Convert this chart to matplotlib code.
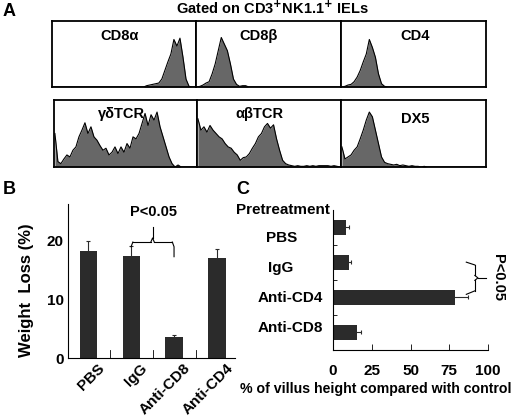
import matplotlib
matplotlib.use("Agg")
import matplotlib.pyplot as plt
import matplotlib.transforms as mtransforms
import numpy as np

plt.rcParams['font.family'] = ['Liberation Sans', 'DejaVu Sans']
plt.rcParams['font.weight'] = 'bold'

# ---------------- data ----------------
# Panel A: flow histograms (relative counts per bin, 48 bins across the log scale)
hist_names = ["CD8α", "CD8β", "CD4", "γδTCR", "αβTCR", "DX5"]
cd8a = [0]*31 + [0.02, 0.03, 0.04, 0.05, 0.06, 0.12, 0.25, 0.38, 0.5, 0.72, 0.62, 0.74,
                 0.45, 0.12, 0.01, 0, 0]
cd8b = [0, 0.01, 0.03, 0.06, 0.08, 0.2, 0.35, 0.55, 0.75, 0.65, 0.55, 0.35, 0.12, 0.04,
        0.01, 0.02, 0.02] + [0]*31
cd4 = [0, 0.01, 0.03, 0.04, 0.08, 0.15, 0.25, 0.38, 0.5, 0.72, 0.6, 0.45, 0.2, 0.05,
       0.01] + [0]*33
gdtcr = [0.5, 0.08, 0.05, 0.12, 0.18, 0.15, 0.25, 0.3, 0.45, 0.55, 0.66, 0.5, 0.6, 0.45,
         0.4, 0.32, 0.25, 0.28, 0.18, 0.22, 0.3, 0.2, 0.3, 0.22, 0.35, 0.28, 0.45, 0.42,
         0.5, 0.65, 0.8, 0.62, 0.78, 0.7, 0.82, 0.6, 0.45, 0.3, 0.15, 0.05, 0.0, 0.03,
         0, 0, 0, 0, 0, 0]
abtcr = [0.72, 0.55, 0.6, 0.52, 0.62, 0.55, 0.5, 0.45, 0.42, 0.35, 0.3, 0.28, 0.22, 0.18,
         0.1, 0.14, 0.15, 0.2, 0.28, 0.35, 0.45, 0.5, 0.6, 0.65, 0.58, 0.63, 0.42, 0.25,
         0.1, 0.05, 0.03, 0.02, 0.01, 0.02, 0.01, 0.01, 0.02, 0.01, 0.02, 0.01, 0.02,
         0.02, 0.02, 0.02, 0.01, 0.02, 0.01, 0]
dx5 = [0.3, 0.12, 0.15, 0.18, 0.25, 0.3, 0.42, 0.55, 0.7, 0.82, 0.75, 0.55, 0.35, 0.15,
       0.07, 0.05, 0.04, 0.03, 0.04, 0.02, 0.03, 0.02, 0.01, 0.02, 0.01, 0.01, 0.0,
       0.01] + [0]*20
hist_data = [cd8a, cd8b, cd4, gdtcr, abtcr, dx5]

# Panel B: weight loss
b_groups = ["PBS", "IgG", "Anti-CD8", "Anti-CD4"]
b_values = [18.3, 17.4, 3.6, 17.0]
b_errors = [1.7, 1.7, 0.3, 1.7]
b_yticks = [0, 10, 20]

# Panel C: villus height
c_groups = ["PBS", "IgG", "Anti-CD4", "Anti-CD8"]
c_values = [8.5, 10.0, 79.0, 15.5]
c_errors = [1.5, 1.5, 8.0, 2.5]
c_xticks = [0, 25, 50, 75, 100]

# ---------------- layout helpers ----------------
W, H = 520, 417
fig = plt.figure(figsize=(W/100, H/100), dpi=100)
FS = 11


def ax_px(x0, y0, x1, y1):
    return fig.add_axes([x0/W, 1 - y1/H, (x1-x0)/W, (y1-y0)/H])


def txt(x, y, s, **kw):
    fig.text(x/W, 1 - y/H, s, **kw)


# ---------------- Panel A ----------------
txt(3, 11, "A", fontsize=13, fontweight='bold', va='center', ha='left')
txt(272, 8, "Gated on CD3$^{\\mathbf{+}}$NK1.1$^{\\mathbf{+}}$ IELs", fontsize=10.5,
    fontweight='bold', ha='center', va='center')

boxes = [(52, 21, 196, 87), (196, 21, 341, 87), (341, 21, 486, 87),
         (54, 100, 197, 167), (197, 100, 341, 167), (341, 100, 486, 167)]
label_pos = [(0.47, 0.77), (0.43, 0.77), (0.51, 0.77),
             (0.47, 0.79), (0.43, 0.79), (0.51, 0.72)]
for (x0, y0, x1, y1), name, vals, lp in zip(boxes, hist_names, hist_data, label_pos):
    ax = ax_px(x0, y0, x1, y1)
    v = np.asarray(vals, dtype=float)
    xs = np.arange(len(v))
    ax.fill_between(xs, 0, v, color='#676767', lw=0)
    ax.plot(xs, v, color='black', lw=0.8)
    ax.set_xlim(-0.3, len(v) - 0.7)
    ax.set_ylim(0, 1)
    ax.set_xticks([])
    ax.set_yticks([])
    for s in ax.spines.values():
        s.set_linewidth(1.3)
    ax.text(lp[0], lp[1], name, transform=ax.transAxes, ha='center', va='center',
            fontsize=10.5, fontweight='bold')

# ---------------- Panel B ----------------
txt(3, 189, "B", fontsize=13, fontweight='bold', va='center', ha='left')
axb = ax_px(68, 204, 235, 358)
xb = np.arange(len(b_groups))
axb.bar(xb, b_values, width=0.4, color='#2b2b2b', yerr=b_errors,
        error_kw=dict(ecolor='#2b2b2b', elinewidth=0.8, capsize=1.5, capthick=0.8))
axb.set_xlim(-0.47, 3.42)
axb.set_ylim(0, 26.3)
axb.spines['top'].set_visible(False)
axb.spines['right'].set_visible(False)
axb.spines['left'].set_linewidth(0.8)
axb.spines['bottom'].set_linewidth(0.8)
axb.set_yticks(b_yticks)
axb.set_yticklabels([str(t) for t in b_yticks], fontsize=FS, fontweight='bold')
axb.tick_params(axis='y', length=0, pad=3)
axb.set_xticks(xb)
axb.set_xticklabels(b_groups, rotation=45, ha='right', rotation_mode='anchor',
                    fontsize=FS, fontweight='bold')
axb.tick_params(axis='x', length=0, pad=2)
shift = mtransforms.ScaledTranslation(0.09, 0, fig.dpi_scale_trans)
for lab in axb.get_xticklabels():
    lab.set_transform(lab.get_transform() + shift)
# minor tick marks between bars
for xm in [0.5, 1.5, 2.5]:
    axb.plot([xm, xm], [0, 1.3], color='black', lw=0.6)
txt(27, 290, "Weight  Loss (%)", fontsize=12, fontweight='bold', rotation=90,
    ha='center', va='center')
# brace between IgG and Anti-CD8
axb.plot([1.0, 1.04], [19.0, 19.8], color='black', lw=0.8, clip_on=False)
axb.plot([1.04, 1.46], [19.8, 19.8], color='black', lw=0.8, clip_on=False)
axb.plot([1.46, 1.5, 1.54], [19.8, 20.5, 19.8], color='black', lw=0.8, clip_on=False)
axb.plot([1.5, 1.5], [20.5, 22.4], color='black', lw=0.8, clip_on=False)
axb.plot([1.54, 1.96], [19.8, 19.8], color='black', lw=0.8, clip_on=False)
axb.plot([1.96, 2.0, 2.0], [19.8, 19.0, 17.3], color='black', lw=0.8, clip_on=False)
axb.text(1.52, 24.9, "P<0.05", ha='center', va='center', fontsize=10.5,
         fontweight='bold')

# ---------------- Panel C ----------------
txt(236, 189, "C", fontsize=13, fontweight='bold', va='center', ha='left')
axc = ax_px(333, 210, 488, 350)
yc = np.arange(len(c_groups))
axc.barh(yc, c_values, height=0.43, color='#2b2b2b', xerr=c_errors,
         error_kw=dict(ecolor='#2b2b2b', elinewidth=0.8, capsize=1.5, capthick=0.8))
axc.set_xlim(0, 100)
axc.set_ylim(3.51, -0.49)
axc.spines['top'].set_visible(False)
axc.spines['right'].set_visible(False)
axc.spines['left'].set_linewidth(0.8)
axc.spines['bottom'].set_linewidth(0.8)
axc.set_xticks(c_xticks)
axc.set_xticklabels([str(t) for t in c_xticks], fontsize=FS, fontweight='bold')
axc.tick_params(axis='x', direction='in', length=4, width=0.6, pad=10)
axc.set_yticks([0.5, 1.5, 2.5])
axc.set_yticklabels([])
axc.tick_params(axis='y', direction='in', length=3, width=0.6)
txt(376, 389, "% of villus height compared with control", fontsize=10.2,
    fontweight='bold', ha='center', va='center')
# category labels (offset as in the original layout)
c_label_y = [238, 268, 298, 328]
c_label_x = [282, 281, 323, 323]
c_label_ha = ['center', 'center', 'right', 'right']
txt(330, 210, "Pretreatment", fontsize=FS, fontweight='bold', ha='right', va='center')
for g, lx, ly, ha in zip(c_groups, c_label_x, c_label_y, c_label_ha):
    txt(lx, ly, g, fontsize=FS, fontweight='bold', ha=ha, va='center')
# brace between IgG and Anti-CD4
axc.plot([86, 91.5], [1.0, 1.08], color='black', lw=0.8, clip_on=False)
axc.plot([91.5, 91.5], [1.08, 1.38], color='black', lw=0.8, clip_on=False)
axc.plot([91.5, 93.5, 91.5], [1.38, 1.45, 1.52], color='black', lw=0.8, clip_on=False)
axc.plot([93.5, 99], [1.45, 1.45], color='black', lw=0.8, clip_on=False)
axc.plot([91.5, 91.5], [1.52, 1.82], color='black', lw=0.8, clip_on=False)
axc.plot([91.5, 86], [1.82, 1.92], color='black', lw=0.8, clip_on=False)
axc.text(106.5, 1.45, "P<0.05", rotation=-90, ha='center', va='center', fontsize=10.5,
         fontweight='bold', clip_on=False)

fig.savefig("out.png", dpi=100)
